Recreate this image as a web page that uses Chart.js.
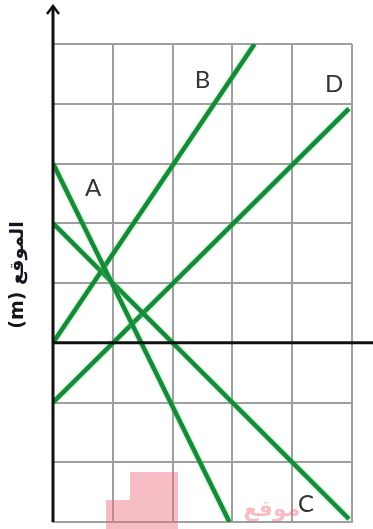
<!DOCTYPE html>
<html>
<head>
<meta charset="utf-8">
<script src="https://cdn.jsdelivr.net/npm/chart.js@4"></script>
<style>
  html, body { margin: 0; padding: 0; background: #fff; }
  #wrap { width: 373px; height: 529px; position: relative; }
</style>
</head>
<body>
<div id="wrap"><canvas id="posChart"></canvas></div>
<script>
// les quatre droites position-temps
const seriesNames = ['A', 'B', 'C', 'D'];
const seriesX = [[0, 2.95], [0, 3.37], [0, 4.95], [0, 4.95]];
const seriesY = [[3, -3], [0, 5], [2, -2.95], [-1, 3.92]];

// bornes de la grille (une case = une unité)
const xTicks = [0, 1, 2, 3, 4, 5];
const yTicks = [-3, -2, -1, 0, 1, 2, 3, 4, 5];
const yTitle = 'الموقع (m)';

const lineColor = '#168a3a';
const gridColor = '#9f9f9f';

// emplacement des lettres, en unités du graphique
const letterPos = {
    A: [0.67, 2.59],
    B: [2.5, 4.4],
    C: [4.23, -2.7],
    D: [4.7, 4.32]
};

const datasets = seriesNames.map((name, i) => ({
    label: name,
    data: seriesX[i].map((x, j) => ({ x: x, y: seriesY[i][j] })),
    borderColor: lineColor,
    borderWidth: 4.5,
    pointRadius: 0,
    fill: false,
    borderCapStyle: 'butt'
}));

// halo clair autour des droites
const glowPlugin = {
    id: 'glow',
    beforeDatasetsDraw(chart) {
        const ctx = chart.ctx;
        ctx.save();
        ctx.shadowColor = 'rgba(90, 210, 110, 0.7)';
        ctx.shadowBlur = 3;
    },
    afterDatasetsDraw(chart) {
        chart.ctx.restore();
    }
};

// axes noirs, flèche, lettres, titre vertical et filigrane
const decorPlugin = {
    id: 'decor',
    afterDraw(chart) {
        const ctx = chart.ctx;
        const xs = chart.scales.x, ys = chart.scales.y;
        const x0 = xs.getPixelForValue(0);
        const y0 = ys.getPixelForValue(0);
        const area = chart.chartArea;

        ctx.save();
        ctx.strokeStyle = '#111';
        ctx.lineWidth = 3;
        ctx.beginPath();
        ctx.moveTo(x0, area.bottom);
        ctx.lineTo(x0, 6);
        ctx.stroke();
        ctx.beginPath();
        ctx.moveTo(x0 - 6, 14);
        ctx.lineTo(x0, 6);
        ctx.lineTo(x0 + 6, 14);
        ctx.lineWidth = 2.5;
        ctx.stroke();

        ctx.lineWidth = 3;
        ctx.beginPath();
        ctx.moveTo(x0, y0);
        ctx.lineTo(chart.width, y0);
        ctx.stroke();

        ctx.fillStyle = '#333';
        ctx.font = '24px Lato, "Open Sans", sans-serif';
        ctx.textAlign = 'center';
        ctx.textBaseline = 'middle';
        Object.keys(letterPos).forEach(k => {
            const p = letterPos[k];
            ctx.fillText(k, xs.getPixelForValue(p[0]), ys.getPixelForValue(p[1]));
        });

        ctx.save();
        ctx.translate(18, 275);
        ctx.rotate(-Math.PI / 2);
        ctx.fillStyle = '#1a1420';
        ctx.font = 'bold 19px "DejaVu Sans", sans-serif';
        ctx.direction = 'rtl';
        ctx.fillText(yTitle, 0, 0);
        ctx.restore();

        ctx.fillStyle = 'rgba(236, 110, 125, 0.45)';
        ctx.fillRect(130, 472, 48, 57);
        ctx.fillRect(106, 500, 24, 29);
        ctx.font = 'bold 22px "DejaVu Sans", sans-serif';
        ctx.direction = 'rtl';
        ctx.fillText('موقع', 272, 510);
        ctx.restore();
    }
};

new Chart(document.getElementById('posChart').getContext('2d'), {
    type: 'line',
    data: { datasets: datasets },
    options: {
        responsive: true,
        maintainAspectRatio: false,
        animation: false,
        events: [],
        layout: { padding: { left: 53, top: 44, right: 21, bottom: 7 } },
        plugins: {
            legend: { display: false },
            tooltip: { enabled: false }
        },
        scales: {
            x: {
                type: 'linear',
                min: xTicks[0],
                max: xTicks[xTicks.length - 1],
                afterBuildTicks: s => { s.ticks = xTicks.map(v => ({ value: v })); },
                ticks: { display: false },
                grid: { color: gridColor, lineWidth: 2, drawTicks: false },
                border: { color: gridColor, width: 2 }
            },
            y: {
                type: 'linear',
                min: yTicks[0],
                max: yTicks[yTicks.length - 1],
                afterBuildTicks: s => { s.ticks = yTicks.map(v => ({ value: v })); },
                ticks: { display: false },
                grid: { color: gridColor, lineWidth: 2, drawTicks: false },
                border: { color: gridColor, width: 2 }
            }
        }
    },
    plugins: [glowPlugin, decorPlugin]
});
</script>
</body>
</html>
